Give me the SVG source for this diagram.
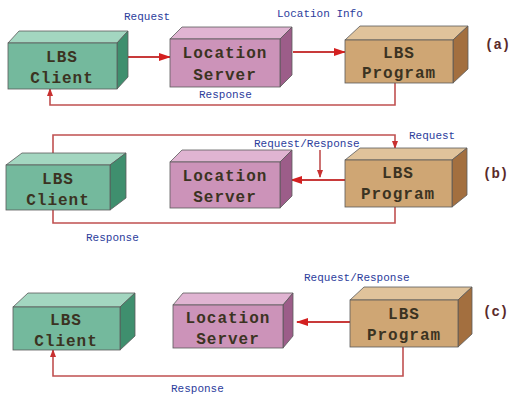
<svg xmlns="http://www.w3.org/2000/svg" width="513" height="396" viewBox="0 0 513 396">
<defs>
<marker id="ah" viewBox="0 0 12 8" refX="11" refY="4" markerWidth="12" markerHeight="8" markerUnits="userSpaceOnUse" orient="auto"><path d="M0,0 L12,4 L0,8 z" fill="#d42020"/></marker>
<marker id="ahs" viewBox="0 0 8 6" refX="7" refY="3" markerWidth="8" markerHeight="6" markerUnits="userSpaceOnUse" orient="auto"><path d="M0,0 L8,3 L0,6 z" fill="#c83030"/></marker>
</defs>
<style>
.box polygon,.box rect{stroke:#5a5a5a;stroke-width:0.8}
.g .f{fill:#74b99d}.g .t{fill:#a3d6c0}.g .s{fill:#3f8f6e}
.p .f{fill:#cc93b9}.p .t{fill:#e0b4d2}.p .s{fill:#9c5d89}
.b .f{fill:#cfa674}.b .t{fill:#e0c39b}.b .s{fill:#a36f3f}
.bt{font-family:"Liberation Mono",monospace;font-size:16px;font-weight:bold;fill:#3b3322;text-anchor:middle;letter-spacing:1px}
.lb{font-family:"Liberation Mono",monospace;font-size:11px;fill:#2c3c9c}
.tag{font-family:"Liberation Mono",monospace;font-size:14px;font-weight:bold;fill:#5a2a2a}
.ln{fill:none;stroke:#c05050;stroke-width:1.6}
.ar{fill:none;stroke:#c83a3a;stroke-width:2.2}
</style>
<rect width="513" height="396" fill="#ffffff"/>

<g id="connectors">
<line class="ar" x1="117" y1="57" x2="170" y2="57" marker-end="url(#ah)"/>
<line class="ar" x1="293" y1="52" x2="345" y2="52" marker-end="url(#ah)"/>
<polyline class="ln" points="395,83 395,105 50,105 50,89" marker-end="url(#ahs)"/>
<polyline class="ln" points="53,153 53,135 395,135 395,148" marker-end="url(#ahs)"/>
<line class="ar" x1="345" y1="180" x2="291" y2="180" marker-end="url(#ah)"/>
<line class="ln" x1="320" y1="150" x2="320" y2="177" stroke-width="1" marker-end="url(#ahs)"/>
<polyline class="ln" points="395,207 395,223 53,223 53,210"/>
<line class="ar" x1="350" y1="322" x2="297" y2="322" marker-end="url(#ah)"/>
<polyline class="ln" points="403,347 403,376 53,376 53,350" marker-end="url(#ahs)"/>
</g>

<g id="client-a" class="box g">
<polygon class="t" points="8,43 19,31 128,31 117,43"/>
<polygon class="s" points="117,43 128,31 128,77 117,89"/>
<rect class="f" x="8" y="43" width="109" height="46"/>
<text class="bt" x="62" y="62">LBS</text><text class="bt" x="62" y="83">Client</text>
</g>
<g id="server-a" class="box p">
<polygon class="t" points="170,39 182,27 292,27 280,39"/>
<polygon class="s" points="280,39 292,27 292,75 280,87"/>
<rect class="f" x="170" y="39" width="110" height="48"/>
<text class="bt" x="225" y="58" letter-spacing="2">Location</text><text class="bt" x="225" y="80" letter-spacing="2">Server</text>
</g>
<g id="program-a" class="box b">
<polygon class="t" points="345,40 360,26 468,26 453,40"/>
<polygon class="s" points="453,40 468,26 468,69 453,83"/>
<rect class="f" x="345" y="40" width="108" height="43"/>
<text class="bt" x="399" y="58">LBS</text><text class="bt" x="399" y="78">Program</text>
</g>

<g id="client-b" class="box g">
<polygon class="t" points="6,165 22,153 126,153 110,165"/>
<polygon class="s" points="110,165 126,153 126,198 110,210"/>
<rect class="f" x="6" y="165" width="104" height="45"/>
<text class="bt" x="58" y="184">LBS</text><text class="bt" x="58" y="205">Client</text>
</g>
<g id="server-b" class="box p">
<polygon class="t" points="170,162 182,150 292,150 280,162"/>
<polygon class="s" points="280,162 292,150 292,196 280,208"/>
<rect class="f" x="170" y="162" width="110" height="46"/>
<text class="bt" x="225" y="181" letter-spacing="2">Location</text><text class="bt" x="225" y="202" letter-spacing="2">Server</text>
</g>
<g id="program-b" class="box b">
<polygon class="t" points="345,160 360,148 467,148 452,160"/>
<polygon class="s" points="452,160 467,148 467,195 452,207"/>
<rect class="f" x="345" y="160" width="107" height="47"/>
<text class="bt" x="398" y="178">LBS</text><text class="bt" x="398" y="199">Program</text>
</g>

<g id="client-c" class="box g">
<polygon class="t" points="13,307 28,293 135,293 120,307"/>
<polygon class="s" points="120,307 135,293 135,336 120,350"/>
<rect class="f" x="13" y="307" width="107" height="43"/>
<text class="bt" x="66" y="325">LBS</text><text class="bt" x="66" y="346">Client</text>
</g>
<g id="server-c" class="box p">
<polygon class="t" points="173,305 183,293 293,293 283,305"/>
<polygon class="s" points="283,305 293,293 293,336 283,348"/>
<rect class="f" x="173" y="305" width="110" height="43"/>
<text class="bt" x="228" y="323" letter-spacing="2">Location</text><text class="bt" x="228" y="344" letter-spacing="2">Server</text>
</g>
<g id="program-c" class="box b">
<polygon class="t" points="350,300 364,287 472,287 458,300"/>
<polygon class="s" points="458,300 472,287 472,334 458,347"/>
<rect class="f" x="350" y="300" width="108" height="47"/>
<text class="bt" x="404" y="319">LBS</text><text class="bt" x="404" y="340">Program</text>
</g>

<g id="labels">
<text class="lb" x="124" y="20">Request</text>
<text class="lb" x="277" y="17" font-size="9.5">Location Info</text>
<text class="lb" x="199" y="98">Response</text>
<text class="tag" x="485" y="49">(a)</text>
<text class="lb" x="254" y="147">Request/Response</text>
<text class="lb" x="409" y="139" font-size="11.5">Request</text>
<text class="lb" x="86" y="241">Response</text>
<text class="tag" x="483" y="178">(b)</text>
<text class="lb" x="304" y="281" font-size="12.5">Request/Response</text>
<text class="lb" x="171" y="392" font-size="12.5">Response</text>
<text class="tag" x="483" y="316">(c)</text>
</g>
</svg>
